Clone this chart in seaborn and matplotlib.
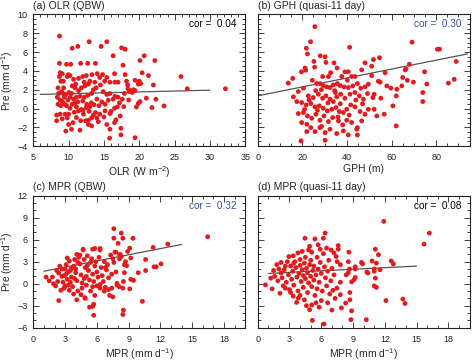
import numpy as np
import pandas as pd
import matplotlib
matplotlib.use("Agg")
import matplotlib.pyplot as plt
import seaborn as sns
from matplotlib.ticker import MultipleLocator

# ---------------- data ----------------
# (a) OLR (QBW)
olr_x = [8.7, 10.5, 11.3, 12.9, 14.6, 15.4, 17.5, 18.0, 16.3, 17.7,
         8.7, 9.7, 10.3, 11.7, 12.7, 13.8,
         8.8, 9.1, 9.95, 10.2, 9.8, 8.7, 12.0, 12.5, 13.3, 14.05, 14.8, 16.5, 18.0,
         8.9, 9.25, 10.7, 11.4, 12.8, 12.3, 13.0, 13.7, 14.4, 15.1, 15.85, 16.55, 17.0, 18.2, 18.35,
         8.5, 9.0, 9.6, 10.05, 10.9, 11.4, 11.8,
         10.2, 10.7, 11.1, 11.6, 12.2, 12.7, 13.25,
         8.4, 8.8, 9.1, 8.5, 8.9, 9.4,
         9.7, 10.2, 10.5, 11.1, 11.4, 11.8, 12.55, 13.2,
         9.5, 10.0, 8.8, 8.3, 9.1,
         11.1, 12.1, 12.8, 13.25, 13.8, 14.4, 15.15, 15.85, 16.5, 16.9,
         14.7, 15.15, 15.6, 16.3,
         14.9, 15.4, 15.85, 16.55, 17.0, 17.6,
         11.7, 12.4, 12.8, 13.25, 14.2,
         10.0, 9.6, 10.4, 11.6,
         15.85, 17.4, 17.4, 15.8, 19.4,
         15.4, 16.7, 17.3,
         20.7, 20.1, 22.2, 20.4, 21.3, 20.0, 20.2, 19.85, 19.4, 22.0, 25.9, 26.8, 32.2,
         21.0, 20.1, 19.85, 19.6, 22.35, 23.5, 21.8,
         18.4, 18.8, 19.2, 19.0, 18.6, 19.4,
         9.2, 9.4, 10.4, 9.9, 10.9, 11.3, 12.0, 12.5, 13.0, 13.6, 14.0, 14.3, 13.9, 14.5, 15.4,
         13.5, 12.2, 11.0, 10.5, 9.3, 8.6, 8.3, 9.8, 10.6, 12.9, 14.0, 16.0, 16.5, 17.2, 17.8,
         18.5, 17.9, 15.0, 13.5, 12.0, 10.8]
olr_pre = [7.7, 6.4, 6.6, 7.1, 6.6, 7.1, 6.45, 6.3, 5.6, 4.6,
           4.8, 4.7, 4.7, 4.8, 4.8, 4.8,
           3.8, 3.7, 3.6, 3.5, 3.4, 3.4, 3.4, 3.5, 3.6, 3.7, 3.6, 3.7, 3.6,
           2.9, 2.9, 3.1, 3.2, 2.6, 2.4, 2.9, 2.8, 3.3, 2.9, 2.8, 2.8, 2.8, 2.9, 2.5,
           2.2, 1.8, 1.5, 1.7, 2.2, 1.9, 2.2,
           1.2, 1.0, 1.2, 1.3, 1.2, 1.4, 1.6,
           1.2, 0.9, 0.75, 0.45, 0.3, 0.5,
           0.3, 0.03, 0.45, 0.17, -0.25, -0.1, 0.45, 0.6,
           -0.6, -0.6, -0.6, -1.3, -1.1,
           -0.96, -0.6, -1.25, -1.0, -0.43, -0.6, -0.25, -0.54, 0.03, 0.17,
           0.7, 0.45, 0.88, 0.99,
           1.8, 1.5, 1.6, 1.3, 1.2, 0.99,
           -1.3, -1.3, -1.7, -1.85, -1.4,
           -1.7, -2.4, -2.2, -2.3,
           -2.2, -2.1, -2.8, -3.15, -3.1,
           -1.7, -1.2, -0.8,
           5.6, 5.1, 5.1, 3.8, 3.5, 2.9, 2.65, 2.6, 3.0, 2.5, 3.4, 2.1, 2.1,
           1.1, 0.74, 0.53, 0.17, 0.99, 0.28, 0.1,
           2.1, 1.9, 2.0, 1.7, 1.8, 1.9,
           1.6, 1.2, 1.6, 0.9, 0.6, 0.7, 0.8, 0.1, 0.2, 0.4, 1.0, 0.3, 2.2, 2.5, 3.3,
           2.0, 2.8, 2.6, 2.4, 2.2, 1.6, -0.7, -1.0, -1.5, -0.3, -1.0, -0.3, -1.5, 0.6, 0.2,
           0.9, 1.6, -0.9, -0.7, -0.2, -0.4]
olr_fit_x = [6.0, 30.0]
olr_fit_y = [1.5, 1.95]

# (b) GPH (quasi-11 day)
gph_x = [25.6, 23.7, 21.8, 22.3, 41.2, 28.0, 30.2, 30.6, 25.2, 25.5, 34.2, 35.6, 21.2, 21.5, 19.6, 13.7, 15.7,
         29.1, 31.7, 32.7, 37.7, 39.1, 40.6, 42.1, 43.6, 46.6, 48.1,
         24.5, 26.4, 27.9, 29.4, 30.9, 32.4, 33.9, 35.7, 36.9, 38.7, 40.6, 42.6, 44.7, 46.2, 48.1, 49.6,
         18.2, 20.5, 22.7, 24.9, 27.2, 29.1, 30.6, 32.4, 33.9, 35.4, 37.2, 39.1, 41.4, 43.6, 45.6, 47.4, 49.2,
         16.0, 17.5, 19.7, 21.7, 23.8, 25.7, 27.6, 29.4, 31.2, 33.2, 35.1, 36.6, 38.4, 39.9, 41.7, 43.6, 45.9, 48.1, 49.6,
         18.2, 20.5, 22.3, 24.2, 26.1, 27.9, 29.7, 31.7, 33.6, 36.2, 38.1, 39.9, 42.1, 44.7, 46.6,
         19.7, 22.0, 23.8, 25.7, 27.9, 30.2, 32.4, 35.4, 38.4, 40.6, 44.4,
         22.0, 19.4, 30.2, 44.7,
         51.1, 51.9, 54.6, 51.1, 54.1, 54.9, 57.1, 57.9, 52.2, 51.6, 55.2, 52.2, 53.4, 56.7,
         59.7, 62.1, 62.4, 60.6, 64.6, 65.0, 66.1, 66.5, 67.1, 68.0, 69.2, 69.8, 62.1,
         74.0, 74.0, 74.8, 75.8, 80.6, 81.5, 85.5, 88.1, 89.0,
         26.0, 28.5, 34.5, 37.0, 23.0, 31.5, 36.0, 41.0, 44.0, 21.0, 26.8, 34.8, 40.2, 47.0, 28.6]
gph_pre = [8.7, 7.1, 6.4, 5.8, 6.5, 5.6, 5.5, 4.9, 5.0, 4.4, 4.85, 4.3, 4.3, 4.07, 3.9, 2.7, 3.2,
           3.4, 3.4, 3.8, 3.4, 3.9, 3.9, 3.4, 3.4, 4.1, 4.85,
           3.0, 2.65, 2.65, 2.44, 2.3, 2.23, 2.51, 2.65, 2.44, 2.3, 2.23, 2.4, 2.65, 2.16, 2.3, 2.58,
           1.8, 2.16, 1.34, 1.16, 1.52, 1.09, 1.34, 0.99, 0.74, 1.24, 1.52, 1.09, 1.52, 1.7, 1.34, 0.99, 1.59,
           1.24, 0.74, 0.63, 0.38, 0.53, 0.17, 0.28, 0.03, -0.25, -0.08, 0.1, -0.32, -0.43, -0.08, 0.38, 0.17, -0.32, -0.61, -0.08,
           -0.54, -0.43, -0.79, -1.03, -0.61, -1.25, -0.79, -1.39, -0.96, -1.32, -1.74, -1.25, -1.49, -2.03, -1.32,
           -1.49, -1.67, -2.03, -2.45, -2.03, -2.56, -2.2, -2.66, -2.38, -2.81, -2.2,
           -2.45, -3.44, -3.37, -2.81,
           4.5, 5.2, 5.4, 3.5, 2.9, 2.8, 3.8, 2.4, 1.5, 1.16, 1.1, -0.08, -0.79, -0.6,
           2.16, 1.34, 2.05, 0.28, 2.4, 3.3, 4.1, 4.2, 3.0, 4.7, 7.05, 2.8, -1.85,
           1.7, 0.74, 3.9, 2.6, 6.3, 6.3, 2.7, 3.1, 5.0,
           1.9, 2.0, 1.9, 0.5, 0.9, 0.6, -0.9, -0.7, 0.9, -0.1, -0.2, 1.7, 3.0, 0.5, -1.9]
gph_fit_x = [0.0, 94.0]
gph_fit_y = [1.35, 5.8]

# (c) MPR (QBW)
mprc_x = [16.45, 12.7, 11.3, 12.06, 11.6, 11.4, 10.6, 10.6, 9.9, 10.3, 8.3, 8.45, 9.4, 8.9, 9.1, 9.2,
          8.3, 8.6, 8.8, 8.7, 8.6, 9.2, 9.46, 8.5, 8.45, 9.1, 8.5, 8.45, 8.14, 8.14,
          7.6, 7.6, 8.0, 5.8, 6.3, 4.7, 7.8, 8.2, 8.1, 5.7, 5.7, 5.6, 5.3, 4.1, 4.85, 2.4,
          5.6, 6.3, 6.8, 7.1, 7.5, 7.9,
          1.2, 1.8, 2.4, 1.9, 2.1, 2.3, 2.5, 2.7, 2.8, 2.9, 2.6, 3.0, 3.1, 3.2, 3.3, 3.1, 3.4, 3.5,
          3.6, 3.7, 3.4, 3.8, 3.9, 4.0, 4.1, 4.2, 4.0, 4.3, 4.4, 4.5, 4.6, 4.6, 4.8, 4.9, 5.0, 5.0,
          5.1, 5.2, 5.3, 5.4, 5.5, 5.6, 5.7, 5.8, 5.9, 6.0, 6.1, 6.2, 6.4, 6.5, 6.6, 6.7, 6.9, 7.0,
          7.1, 7.3, 7.4, 7.6, 7.7, 7.8, 7.9, 3.0, 3.6, 4.7, 4.2, 3.9, 2.9, 3.3, 4.5, 5.4, 6.0, 6.7,
          7.2, 4.9, 3.8, 5.8, 7.4, 6.3, 5.6, 4.4, 2.7, 3.2, 4.1, 5.1, 6.8, 7.5, 2.2, 1.5, 3.5, 4.8, 6.3]
mprc_pre = [6.4, 5.4, 4.95, 2.7, 2.3, 2.3, 3.3, 1.8, 1.5, -2.4, 6.9, 6.2, 6.2, 4.4, 4.85, 3.5,
            3.7, 2.6, 2.45, 3.0, 1.5, 0.6, 0.45, 0.3, -0.6, -0.7, -3.6, -4.2, 3.9, 3.4,
            7.5, 6.2, 5.5, 4.8, 4.8, 4.7, 4.3, 4.0, -0.4, -4.3, -2.8, -3.1, -3.2, -2.2, -1.9, -2.3,
            -0.4, -0.6, -0.5, -0.8, -1.8, 0.05,
            0.9, 0.9, 1.45, 0.0, -0.3, 0.3, 2.4, 1.0, 0.2, -0.6, -0.9, 2.0, 1.3, 0.6, -0.2, 2.6, 3.1, 1.8,
            0.9, -0.4, -0.9, 2.4, 3.3, 1.5, 0.4, -1.0, 2.0, 3.6, 2.7, 1.2, 0.1, -0.6, 3.3, 2.2, 1.0, -0.2,
            3.8, 1.8, 0.5, 2.9, 3.4, 1.3, 0.3, 2.4, 3.0, 1.6, 0.9, 3.6, 2.2, 1.1, 0.3, 3.0, 1.9, 2.6,
            0.8, 3.9, 1.3, 2.9, 4.3, 1.6, -0.2, -0.3, 2.1, 4.6, 2.9, 0.7, 1.1, 1.6, -1.5, -1.0, -0.3, -1.0,
            -1.6, -2.0, -1.4, -1.6, -0.6, 4.6, 4.7, 3.9, 2.0, 3.5, 4.0, 2.5, 2.2, 3.4, 1.8, 0.4, 0.2, 0.7, -0.1]
mprc_fit_x = [1.0, 14.0]
mprc_fit_y = [1.7, 5.35]

# (d) MPR (quasi-11 day)
mprd_x = [11.9, 16.2, 15.7, 11.1, 11.4, 8.6, 8.55, 10.8, 11.2, 12.6, 12.8, 9.9, 9.2, 9.2, 8.67,
          11.0, 11.0, 11.55, 10.4, 8.55, 8.35, 9.2, 9.1, 8.86, 11.1, 11.0, 11.2, 12.1, 13.7, 13.9,
          8.3, 8.86, 8.8, 10.25, 8.7, 8.7, 9.8, 10.3,
          0.73, 1.36, 2.1, 1.23, 1.6, 2.2, 2.6, 2.94, 3.35, 3.8, 4.46, 4.8, 4.9, 5.4, 5.7, 6.2, 6.36,
          6.5, 6.93, 7.6, 7.6, 7.4, 7.8, 7.8, 7.47, 7.8, 7.9, 5.16, 6.26, 4.9, 5.1, 3.67, 3.83, 3.35,
          1.5, 1.9, 2.0, 2.3, 2.4, 2.5, 2.7, 2.8, 2.9, 3.0, 3.1, 3.2, 3.3, 3.4, 3.5, 3.6, 3.7, 3.8,
          3.9, 4.0, 4.0, 4.1, 4.2, 4.3, 4.3, 4.4, 4.5, 4.5, 4.6, 4.7, 4.7, 4.8, 4.9, 5.0, 5.0, 5.1,
          5.2, 5.3, 5.3, 5.4, 5.5, 5.6, 5.6, 5.7, 5.8, 5.9, 6.0, 6.1, 6.2, 6.3, 6.4, 6.5, 6.6, 6.7,
          6.8, 6.9, 7.0, 7.1, 7.2, 7.3, 7.5, 6.0, 5.5, 4.4, 4.0, 3.1, 2.6, 5.8, 6.6, 7.0, 4.6, 4.2,
          3.4, 5.1, 5.9, 7.2, 2.2, 1.8]
mprd_pre = [8.5, 6.9, 5.4, 4.7, 3.95, 4.3, 3.0, 3.1, 2.8, 3.1, 2.7, 2.7, 2.3, 2.0, 2.0,
            2.0, 1.7, 1.9, 1.45, 1.5, 1.2, 0.85, 0.55, 0.26, 0.76, -0.3, -0.5, -2.3, -2.1, -2.7,
            -2.65, -3.7, -4.9, -4.9, -2.2, -1.2, 2.9, 1.6,
            -0.15, -0.7, -1.3, 0.76, 1.0, 1.45, 2.4, 3.7, 3.8, 4.2, 6.2, 4.6, 5.1, 6.1, 5.3, 6.2, 6.9,
            4.85, 4.6, 5.2, 4.7, 3.7, 2.6, 0.2, -0.6, -1.5, -3.3, -5.0, -5.5, -3.55, -2.9, -2.55, -1.96, -1.7,
            1.8, 0.4, 2.0, 0.8, -0.3, 1.9, 0.2, 3.0, 1.2, -0.8, 2.4, 0.6, 1.7, -0.2, 3.0, 2.2, 0.9, -1.0,
            1.4, 3.3, 2.5, 0.3, 1.9, -0.5, 1.1, 2.8, 3.6, 0.7, 2.1, 1.5, -1.2, 0.1, 2.6, 1.0, 3.2, -0.4,
            1.8, 2.4, 0.5, -1.6, 1.2, 3.6, -0.7, 2.0, 0.2, 2.9, 1.4, -1.0, 4.1, 2.3, 0.8, -0.3, 1.7, 3.2,
            -1.4, 0.4, 2.1, -0.9, 1.2, -2.0, 3.0, -2.3, -2.6, -2.2, -1.6, -1.2, -0.6, -3.2, -2.6, -3.6, -3.0, 4.4,
            2.8, 4.3, 4.7, 4.2, 2.9, 2.6]
mprd_fit_x = [1.0, 15.0]
mprd_fit_y = [1.4, 2.4]

titles = ["(a) OLR (QBW)", "(b) GPH (quasi-11 day)", "(c) MPR (QBW)", "(d) MPR (quasi-11 day)"]
cor_labels = ["cor =  0.04", "cor =  0.30", "cor =  0.32", "cor =  0.08"]
xlabels = ["OLR (W m$^{-2}$)", "GPH (m)", "MPR (mm d$^{-1}$)", "MPR (mm d$^{-1}$)"]
ylabel = "Pre (mm d$^{-1}$)"

# ---------------- style ----------------
sns.set_style("ticks")
plt.rcParams["font.family"] = ["Liberation Sans", "DejaVu Sans"]
plt.rcParams["mathtext.fontset"] = "custom"
plt.rcParams["mathtext.rm"] = "Liberation Sans"
plt.rcParams["mathtext.it"] = "Liberation Sans:italic"
plt.rcParams["mathtext.default"] = "regular"

RED = "#e41a1c"
LINE = "#555555"
BLUE = "#3a4f9f"

fig = plt.figure(figsize=(4.74, 3.6), dpi=100)

panels = [
    dict(x=olr_x, y=olr_pre, fx=olr_fit_x, fy=olr_fit_y, xlim=(5, 35), ylim=(-4, 10),
         xmaj=5, xmin=1, ymaj=2, ymin=0.5, pos=[0.0703, 0.594, 0.447, 0.366], left=True,
         cc="black"),
    dict(x=gph_x, y=gph_pre, fx=gph_fit_x, fy=gph_fit_y, xlim=(0, 95), ylim=(-4, 10),
         xmaj=20, xmin=5, ymaj=2, ymin=0.5, pos=[0.5437, 0.594, 0.447, 0.366], left=False,
         cc=BLUE),
    dict(x=mprc_x, y=mprc_pre, fx=mprc_fit_x, fy=mprc_fit_y, xlim=(0, 20), ylim=(-6, 12),
         xmaj=3, xmin=1, ymaj=3, ymin=1, pos=[0.0703, 0.0897, 0.447, 0.3667], left=True,
         cc=BLUE),
    dict(x=mprd_x, y=mprd_pre, fx=mprd_fit_x, fy=mprd_fit_y, xlim=(0, 20), ylim=(-6, 12),
         xmaj=3, xmin=1, ymaj=3, ymin=1, pos=[0.5437, 0.0897, 0.447, 0.3667], left=False,
         cc="black"),
]

for i, p in enumerate(panels):
    ax = fig.add_axes(p["pos"])
    df = pd.DataFrame({"x": p["x"], "y": p["y"]})
    sns.lineplot(x=p["fx"], y=p["fy"], ax=ax, color=LINE, lw=0.9, zorder=2)
    sns.scatterplot(data=df, x="x", y="y", ax=ax, color=RED, s=12,
                    linewidth=0, edgecolor="none", zorder=3)
    ax.set_xlim(*p["xlim"])
    ax.set_ylim(*p["ylim"])
    ax.xaxis.set_major_locator(MultipleLocator(p["xmaj"]))
    ax.xaxis.set_minor_locator(MultipleLocator(p["xmin"]))
    ax.yaxis.set_major_locator(MultipleLocator(p["ymaj"]))
    ax.yaxis.set_minor_locator(MultipleLocator(p["ymin"]))
    ax.tick_params(which="both", direction="in", top=True, right=True,
                   labelsize=6.5, width=0.6, colors="#222222")
    ax.tick_params(which="major", length=4)
    ax.tick_params(which="minor", length=2)
    ax.tick_params(axis="x", pad=5)
    ax.tick_params(axis="y", pad=4)
    for s in ax.spines.values():
        s.set_linewidth(0.8)
        s.set_color("#222222")
    ax.set_xlabel(xlabels[i], fontsize=7.5, labelpad=1.5)
    if p["left"]:
        ax.set_ylabel(ylabel, fontsize=7.3, labelpad=1.5)
    else:
        ax.set_ylabel("")
        ax.tick_params(axis="y", labelleft=False)
    ax.text(0.0, 1.028, titles[i], transform=ax.transAxes, ha="left", va="bottom",
            fontsize=7.5)
    ax.text(0.96, 0.925, cor_labels[i], transform=ax.transAxes, ha="right", va="center",
            fontsize=7.2, color=p["cc"])

fig.savefig("out.png", dpi=100)
